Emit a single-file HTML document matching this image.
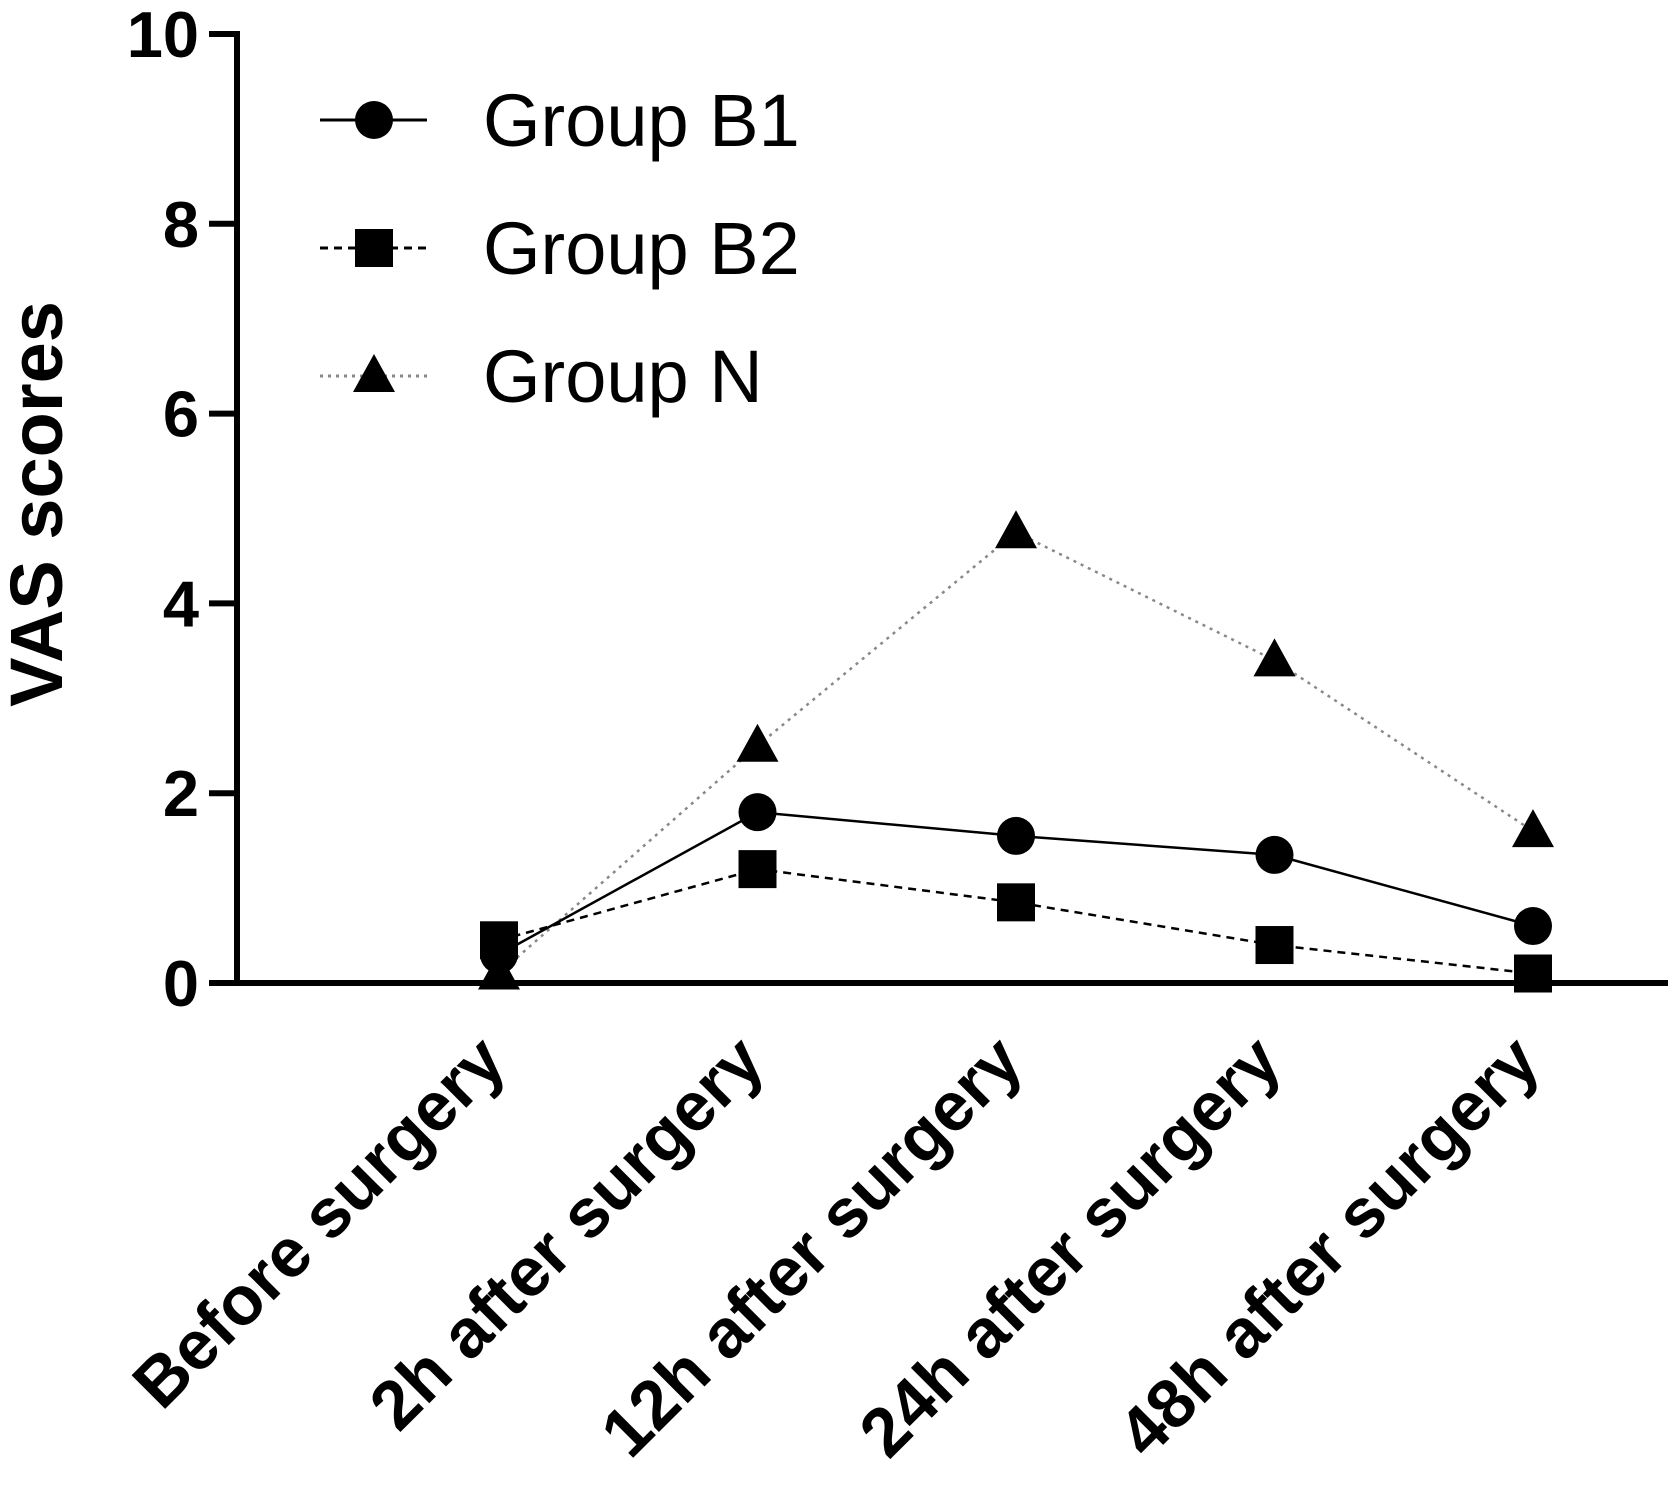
<!DOCTYPE html>
<html><head><meta charset="utf-8"><style>
html,body{margin:0;padding:0;background:#fff;}
svg{display:block;}
text{font-family:"Liberation Sans",Arial,sans-serif;}
</style></head><body>
<svg id="chart" width="1675" height="1490" viewBox="0 0 1675 1490" xmlns="http://www.w3.org/2000/svg">
<g id="axes"></g>
<g id="series"></g>
<g id="legend"></g>
<text transform="translate(62,504) rotate(-90)" text-anchor="middle" font-size="74" font-weight="bold">VAS scores</text>
</svg>
<script>
const categories = ["Before surgery","2h after surgery","12h after surgery","24h after surgery","48h after surgery"];
const seriesB1 = [0.3,1.8,1.55,1.35,0.6];
const seriesB2 = [0.45,1.2,0.85,0.4,0.1];
const seriesN = [0.1,2.5,4.75,3.4,1.6];
const yTicks = [0,2,4,6,8,10];
const seriesNames = ["Group B1","Group B2","Group N"];

const NS="http://www.w3.org/2000/svg";
const X0=237, X1=1668, Y0=983, Ytop=34;
const catX=[499,757,1015,1273,1533];
function xScale(i){return catX[0]+i*(catX[4]-catX[0])/(categories.length-1);}
function yScale(v){return Y0-(v/10)*(Y0-Ytop);}
function mk(tag,attrs,parent){const e=document.createElementNS(NS,tag);for(const k in attrs)e.setAttribute(k,attrs[k]);parent.appendChild(e);return e;}
const axes=document.getElementById('axes');
const yaxis=mk('line',{x1:X0,y1:Ytop-3,x2:X0,y2:Y0+3,stroke:'#000','stroke-width':6},axes);


const xaxis=mk('line',{x1:X0-3,y1:Y0,x2:X1,y2:Y0,stroke:'#000','stroke-width':6},axes);


yTicks.forEach(t=>{
  const y=yScale(t);
  const tk=mk('line',{x1:X0-28,y1:y,x2:X0,y2:y,stroke:'#000','stroke-width':6},axes);
  
  
  const lb=mk('text',{x:X0-38,y:y+23,'text-anchor':'end','font-size':65,'font-weight':'bold'},axes);
  lb.textContent=t;
  
  
});
categories.forEach((c,i)=>{
  const x=xScale(i);
  const lb=mk('text',{transform:`translate(${x+10},${Y0+82}) rotate(-45)`,'text-anchor':'end','font-size':69,'font-weight':'bold'},axes);
  lb.textContent=c;
  
  
});
const styles=[
  {data:seriesB1,dash:'none',w:2.5,col:'#000',m:'circle'},
  {data:seriesB2,dash:'8 6',w:2.5,col:'#000',m:'square'},
  {data:seriesN,dash:'3 5',w:2.5,col:'#888',m:'triangle'}
];
function marker(kind,x,y,parent){
  let e;
  if(kind==='circle')e=mk('circle',{cx:x,cy:y,r:19,fill:'#000'},parent);
  else if(kind==='square')e=mk('rect',{x:x-19,y:y-19,width:38,height:38,fill:'#000'},parent);
  else e=mk('polygon',{points:`${x},${y-22} ${x-21},${y+16} ${x+21},${y+16}`,fill:'#000'},parent);
  return e;
}
const sg=document.getElementById('series');
styles.slice().reverse().forEach((s)=>{
  const pts=s.data.map((v,i)=>xScale(i)+','+yScale(v)).join(' ');
  const pl=mk('polyline',{points:pts,fill:'none',stroke:s.col,'stroke-width':s.w,'stroke-dasharray':s.dash},sg);
  
  
});
styles.slice().reverse().forEach((s)=>{
  s.data.forEach((v,i)=>{
    const m=marker(s.m,xScale(i),yScale(v),sg);
    
    
  });
});
const lg=document.getElementById('legend');
styles.forEach((s,i)=>{
  const y=120+i*128;
  const ln=mk('line',{x1:320,y1:y,x2:427,y2:y,stroke:s.col,'stroke-width':3,'stroke-dasharray':s.dash},lg);
  
  
  const m=marker(s.m,374,y,lg);
  
  
  const t=mk('text',{x:483,y:y+26,'font-size':74},lg);
  t.textContent=seriesNames[i];
  
  
});
</script>
</body></html>
